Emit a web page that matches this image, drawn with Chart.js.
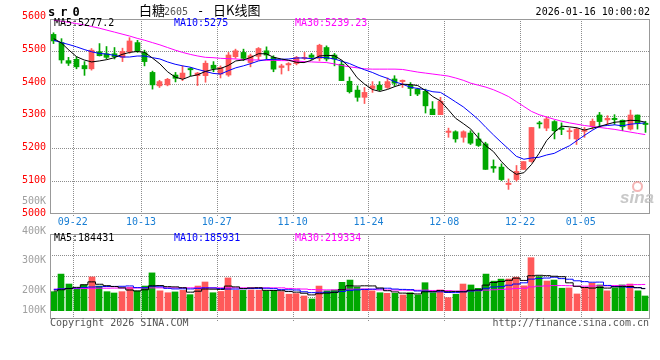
<!DOCTYPE html>
<html>
<head>
<meta charset="utf-8">
<script src="https://cdn.jsdelivr.net/npm/chart.js@4.4.1/dist/chart.umd.min.js"></script>
<style>
body { margin: 0; background: #fff; }
#wrap { position: relative; width: 660px; height: 360px; overflow: hidden; font-family: 'DejaVu Sans Mono', monospace; }
.t { position: absolute; font-size: 10px; line-height: 12px; white-space: nowrap; }
.cjk { font-family: 'Noto Sans CJK SC', sans-serif; font-size: 13px; line-height: 14px; }
canvas { position: absolute; left: 0; }
</style>
</head>
<body>
<div id="wrap">
  <canvas id="kline" width="660" height="232" style="top:0"></canvas>
  <canvas id="vol" width="660" height="140" style="top:190px"></canvas>
  <div class="t" style="left:48px;top:6px;font-weight:bold;font-size:12px;letter-spacing:5px">sr0</div>
  <div class="t cjk" style="left:139px;top:3px">白糖</div>
  <div class="t" style="left:164px;top:6px;color:#555">2605</div>
  <div class="t" style="left:197px;top:5px;font-size:12px">-</div>
  <div class="t cjk" style="left:213px;top:3px">日K线图</div>
  <div class="t" style="right:10px;top:6px">2026-01-16 10:00:02</div>
  <div style="position:absolute;left:632px;top:181px;width:7px;height:7px;border:2px solid rgba(235,120,120,0.55);border-radius:50%"></div>
  <div class="t" style="left:620px;top:188px;font:italic bold 17px 'Liberation Sans';color:#c8c8c8">sina</div>
  <div class="t" style="left:50px;top:317px;color:#555">Copyright 2026 SINA.COM</div>
  <div class="t" style="right:11px;top:317px;color:#555">http://finance.sina.com.cn</div>
</div>
<script>
// trading days shown (MM-DD)
const dates = ['09-17','09-18','09-19','09-22','09-23','09-24','09-25','09-26','09-29','09-30',
  '10-09','10-10','10-13','10-14','10-15','10-16','10-17','10-20','10-21','10-22',
  '10-23','10-24','10-27','10-28','10-29','10-30','10-31','11-03','11-04','11-05',
  '11-06','11-07','11-10','11-11','11-12','11-13','11-14','11-17','11-18','11-19',
  '11-20','11-21','11-24','11-25','11-26','11-27','11-28','12-01','12-02','12-03',
  '12-04','12-05','12-08','12-09','12-10','12-11','12-12','12-15','12-16','12-17',
  '12-18','12-19','12-22','12-23','12-24','12-25','12-26','12-29','12-30','12-31',
  '01-05','01-06','01-07','01-08','01-09','01-12','01-13','01-14','01-15'];
const tickDates = ['09-22','10-13','10-27','11-10','11-24','12-08','12-22','01-05'];

const opens = [5545,5520,5465,5469,5450,5440,5492,5486,5486,5475,
  5492,5520,5489,5429,5388,5391,5421,5411,5441,5419,
  5419,5451,5424,5421,5477,5490,5459,5478,5495,5475,
  5444,5452,5456,5472,5482,5472,5505,5482,5454,5402,
  5375,5353,5380,5390,5383,5409,5401,5390,5378,5371,
  5317,5300,5246,5248,5231,5244,5226,5211,5142,5140,
  5087,5102,5133,5157,5275,5259,5279,5259,5248,5226,
  5249,5264,5299,5284,5289,5283,5256,5299,5274];
const closes = [5525,5467,5457,5446,5440,5497,5480,5475,5477,5493,
  5525,5495,5462,5391,5401,5408,5411,5427,5437,5427,
  5457,5441,5444,5482,5495,5472,5480,5502,5482,5439,
  5449,5456,5475,5475,5475,5512,5470,5470,5404,5370,
  5353,5368,5388,5376,5401,5396,5405,5380,5363,5327,
  5300,5341,5250,5226,5248,5213,5206,5133,5137,5102,
  5091,5127,5157,5261,5272,5287,5251,5255,5251,5256,
  5253,5280,5279,5289,5285,5263,5299,5274,5270];
const highs = [5550,5532,5475,5477,5462,5502,5517,5508,5505,5503,
  5535,5527,5497,5433,5405,5411,5429,5449,5444,5429,
  5464,5462,5449,5490,5500,5500,5485,5505,5507,5480,
  5454,5459,5478,5490,5487,5515,5510,5487,5464,5415,
  5388,5383,5401,5401,5412,5419,5406,5398,5381,5378,
  5340,5353,5259,5251,5251,5251,5244,5216,5162,5150,
  5104,5145,5157,5261,5280,5294,5282,5275,5259,5259,
  5261,5287,5307,5297,5300,5284,5314,5299,5280];
const lows = [5517,5457,5450,5440,5420,5436,5479,5471,5470,5462,
  5487,5490,5449,5378,5383,5388,5400,5404,5419,5389,
  5399,5431,5412,5417,5472,5465,5446,5467,5470,5431,
  5424,5434,5452,5468,5468,5464,5464,5449,5404,5366,
  5341,5334,5368,5373,5380,5388,5383,5358,5358,5305,
  5300,5300,5231,5216,5216,5209,5203,5133,5124,5099,
  5072,5097,5133,5155,5259,5251,5226,5239,5226,5209,
  5231,5256,5261,5270,5270,5251,5253,5256,5246];

const ma5 = [5532,5519,5497,5477,5467,5461,5464,5468,5474,5484,
  5490,5493,5490,5473,5455,5431,5415,5408,5417,5422,
  5432,5438,5441,5450,5464,5467,5475,5486,5486,5475,
  5470,5466,5460,5459,5466,5479,5481,5480,5466,5445,
  5413,5393,5377,5371,5377,5386,5393,5392,5389,5374,
  5355,5342,5316,5289,5273,5256,5229,5205,5187,5158,
  5134,5118,5123,5148,5182,5221,5246,5265,5263,5260,
  5253,5259,5264,5271,5277,5279,5283,5282,5277.2];
const ma10 = [5527,5520,5514,5507,5499,5492,5487,5485,5481,5476,
  5476,5479,5479,5474,5470,5461,5454,5449,5445,5438,
  5432,5426,5424,5434,5443,5449,5456,5464,5468,5469,
  5469,5470,5473,5473,5471,5475,5474,5470,5463,5456,
  5446,5437,5429,5419,5411,5400,5393,5384,5380,5376,
  5370,5368,5354,5339,5324,5305,5285,5261,5238,5216,
  5195,5173,5164,5168,5170,5177,5182,5194,5205,5221,
  5237,5252,5265,5267,5269,5266,5271,5273,5275];
const ma30 = [5588,5585,5582,5578,5574,5569,5564,5558,5552,5546,
  5540,5533,5527,5520,5513,5505,5497,5490,5484,5479,
  5475,5474,5472,5471,5470,5468,5467,5467,5466,5466,
  5465,5465,5464,5462,5461,5460,5459,5455,5450,5446,
  5443,5440,5439,5439,5439,5439,5438,5434,5430,5427,
  5424,5421,5418,5412,5405,5396,5390,5384,5376,5366,
  5355,5340,5325,5310,5300,5293,5286,5280,5275,5271,
  5267,5264,5261,5258,5255,5251,5247,5243,5239.23];

// volume, thousands of lots
const vol = [159,306,223,181,215,282,206,159,148,159,
  195,165,206,316,166,150,157,170,134,206,
  240,150,161,274,171,170,173,171,164,169,
  159,138,143,123,98,206,166,173,237,256,
  196,180,166,150,145,145,131,150,131,234,
  150,173,109,137,223,215,187,306,247,264,
  265,280,208,443,285,248,256,188,190,140,
  196,229,215,166,190,215,223,166,123];
const volMa5 = [165,175,185,195,217,241,221,209,202,191,
  173,165,175,208,210,201,199,192,155,163,
  181,180,178,206,199,185,190,192,170,169,
  167,160,155,146,132,142,147,153,176,208,
  206,208,207,190,167,157,147,144,140,158,
  159,168,159,161,158,171,174,214,236,244,
  254,272,253,292,296,293,288,284,233,204,
  194,189,194,189,199,203,202,192,184.431];
const volMa10 = [178,182,186,190,195,198,200,202,203,204,
  207,193,192,205,200,187,182,183,182,187,
  191,190,185,181,181,183,185,185,188,184,
  176,175,173,158,151,154,154,154,161,170,
  174,178,180,183,188,181,178,176,165,163,
  158,158,152,151,158,165,171,187,198,201,
  213,223,233,264,270,273,280,268,263,250,
  243,238,239,211,202,199,195,193,185.931];
const volMa30 = [180,182,184,185,186,187,188,188,189,189,
  190,190,190,191,191,191,191,191,191,191,
  191,191,191,191,191,191,191,191,191,191,
  191,186,183,181,177,175,174,174,177,180,
  180,181,179,174,173,173,172,171,171,172,
  169,170,168,164,165,167,167,172,175,178,
  181,186,188,199,205,207,210,210,209,205,
  205,206,208,208,210,212,216,218,219.334];

const priceTicks = [5000,5100,5200,5300,5400,5500,5600];
const volTicks = [100,200,300,400,500];
const priceLegend = ['MA5:5277.2','MA10:5275','MA30:5239.23'];
const volLegend = ['MA5:184431','MA10:185931','MA30:219334'];

const UP = '#ff5a5a', DOWN = '#00a800';
const maColors = ['#000000','#0000ff','#ff00ff'];
const legendX = [54, 174, 295];
const candleColors = closes.map((c, i) => c >= opens[i] ? UP : DOWN);

Chart.defaults.font.family = 'DejaVu Sans Mono';
Chart.defaults.font.size = 10;

const halfStep = (649 - 50) / dates.length / 2;

// snap bar centres to whole pixels so the thin wicks stay crisp
const pixelSnap = {
  id: 'pixelSnap',
  afterDatasetsUpdate(chart) {
    chart.data.datasets.forEach((ds, k) => {
      if (ds.type === 'line') return;
      const odd = ds.barThickness % 2 === 1;
      chart.getDatasetMeta(k).data.forEach(el => {
        el.x = odd ? Math.floor(el.x) + 0.5 : Math.round(el.x);
      });
    });
  }
};

// dotted grid, placed with the chart's own scales
const dottedGrid = {
  id: 'dottedGrid',
  beforeDatasetsDraw(chart) {
    const {ctx, chartArea: a, scales} = chart;
    const left = Math.round(a.left), right = Math.round(a.right);
    const top = Math.round(a.top), bottom = Math.round(a.bottom);
    ctx.save();
    ctx.fillStyle = '#8c8c8c';
    scales.y.ticks.forEach(t => {
      const y = Math.round(scales.y.getPixelForValue(t.value));
      if (y <= top + 2 || y >= bottom - 2) return;
      for (let x = left + 2; x < right; x += 2) ctx.fillRect(x, y, 1, 1);
    });
    tickDates.forEach(d => {
      const x = Math.round(scales.x.getPixelForValue(dates.indexOf(d)) - halfStep);
      for (let y = top + 2; y < bottom + 3; y += 2) ctx.fillRect(x, y, 1, 1);
    });
    ctx.restore();
  }
};

const frame = {
  id: 'frame',
  afterDraw(chart) {
    const {ctx, chartArea: a} = chart;
    const left = Math.round(a.left), right = Math.round(a.right);
    const top = Math.round(a.top), bottom = Math.round(a.bottom);
    ctx.save();
    ctx.strokeStyle = '#999';
    ctx.lineWidth = 1;
    ctx.strokeRect(left + 0.5, top + 0.5, right - left, bottom - top);
    ctx.restore();
  }
};

function sideLabels(scaleId, values, fmt, color, clamp) {
  return {
    id: 'side',
    afterDraw(chart) {
      const ctx = chart.ctx, s = chart.scales[scaleId];
      ctx.save();
      ctx.font = '10px "DejaVu Sans Mono"';
      ctx.fillStyle = color;
      ctx.textAlign = 'right';
      ctx.textBaseline = 'middle';
      values.forEach(v => {
        let y = s.getPixelForValue(v);
        if (clamp) y = Math.min(y, chart.chartArea.bottom - 8);
        ctx.fillText(fmt(v), 46, y);
      });
      ctx.restore();
    }
  };
}

function maLegend(texts, dy) {
  return {
    id: 'maLegend',
    afterDraw(chart) {
      const ctx = chart.ctx;
      ctx.save();
      ctx.font = '10px "DejaVu Sans Mono"';
      ctx.textBaseline = 'middle';
      texts.forEach((t, k) => {
        ctx.fillStyle = maColors[k];
        ctx.fillText(t, legendX[k], chart.chartArea.top + dy);
      });
      ctx.restore();
    }
  };
}

function maLine(label, data, k, stepped) {
  return { type: 'line', label: label, data: data, borderColor: maColors[k], borderWidth: 1,
    pointRadius: 0, tension: 0, fill: false, stepped: stepped, order: 0 };
}

new Chart(document.getElementById('kline'), {
  type: 'bar',
  data: {
    labels: dates,
    datasets: [
      maLine('MA5', ma5, 0, false),
      maLine('MA10', ma10, 1, false),
      maLine('MA30', ma30, 2, false),
      { label: 'body', data: opens.map((o, i) => [o, closes[i]]), backgroundColor: candleColors,
        barThickness: 5, minBarLength: 1, grouped: false, order: 1 },
      { label: 'wick', data: lows.map((l, i) => [l, highs[i]]), backgroundColor: candleColors,
        barThickness: 1, grouped: false, order: 2 }
    ]
  },
  options: {
    responsive: false, animation: false,
    layout: { padding: { left: 50, right: 11, top: 19, bottom: 0 } },
    plugins: { legend: { display: false }, tooltip: { enabled: false } },
    scales: {
      x: {
        offset: true,
        grid: { display: false, drawTicks: false },
        border: { display: false },
        ticks: { autoSkip: false, maxRotation: 0, color: '#1a7fd4', padding: 3, labelOffset: -halfStep,
          callback: (v, i) => tickDates.includes(dates[i]) ? dates[i] : '' },
        afterFit: s => { s.height = 19; }
      },
      y: {
        min: 5000, max: 5592,
        ticks: { display: false, stepSize: 100 },
        grid: { display: false, drawTicks: false },
        border: { display: false },
        afterFit: s => { s.width = 0; }
      }
    }
  },
  plugins: [pixelSnap, dottedGrid, frame, sideLabels('y', priceTicks, v => String(v), '#ff0000', false), maLegend(priceLegend, 4.5)]
});

new Chart(document.getElementById('vol'), {
  type: 'bar',
  data: {
    labels: dates,
    datasets: [
      maLine('MA5', volMa5, 0, 'middle'),
      maLine('MA10', volMa10, 1, 'middle'),
      maLine('MA30', volMa30, 2, 'middle'),
      { label: 'volume', data: vol, backgroundColor: candleColors, barThickness: 6, order: 1 }
    ]
  },
  options: {
    responsive: false, animation: false,
    layout: { padding: { left: 50, right: 11, top: 44, bottom: 12 } },
    plugins: { legend: { display: false }, tooltip: { enabled: false } },
    scales: {
      x: {
        offset: true,
        grid: { display: false, drawTicks: false },
        border: { display: false },
        ticks: { display: false },
        afterFit: s => { s.height = 0; }
      },
      y: {
        min: -61, max: 641,
        ticks: { display: false, count: 5 },
        grid: { display: false, drawTicks: false },
        border: { display: false },
        afterFit: s => { s.width = 0; }
      },
      yl: { display: false, position: 'left', min: 105.1, max: 389.8 }
    }
  },
  plugins: [pixelSnap, dottedGrid, frame, sideLabels('yl', volTicks, v => v + 'K', '#a0a0a0', true), maLegend(volLegend, 4)]
});
</script>
</body>
</html>
